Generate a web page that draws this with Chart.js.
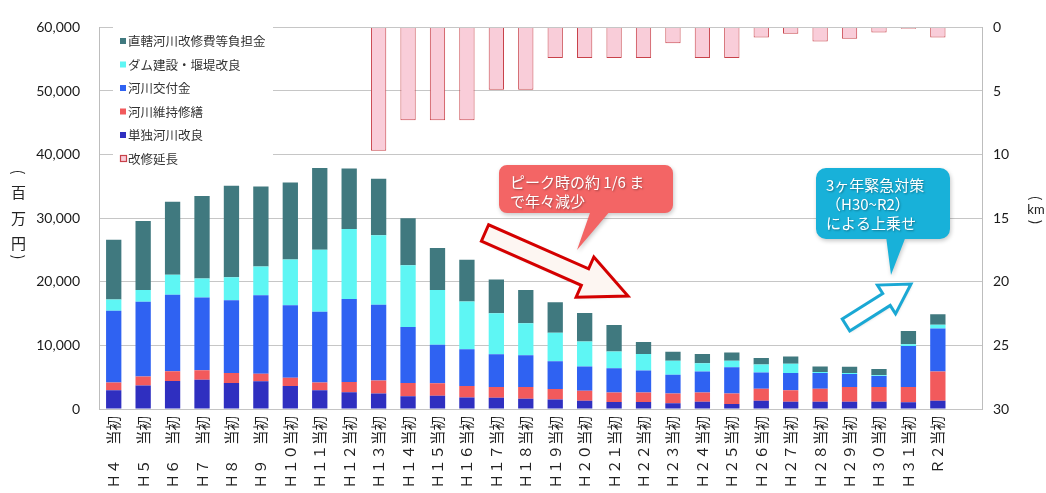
<!DOCTYPE html>
<html>
<head>
<meta charset="utf-8">
<script src="https://cdn.jsdelivr.net/npm/chart.js@4.4.0/dist/chart.umd.min.js"></script>
<style>
  html, body { margin: 0; padding: 0; background: #fff; }
  canvas { display: block; }
</style>
</head>
<body>
<canvas id="c" width="1046" height="493"></canvas>
<script>
// 年度（最後の空欄は右端の余白用）
const categories = ['Ｈ４　当初','Ｈ５　当初','Ｈ６　当初','Ｈ７　当初','Ｈ８　当初','Ｈ９　当初',
  'Ｈ１０当初','Ｈ１１当初','Ｈ１２当初','Ｈ１３当初','Ｈ１４当初','Ｈ１５当初','Ｈ１６当初',
  'Ｈ１７当初','Ｈ１８当初','Ｈ１９当初','Ｈ２０当初','Ｈ２１当初','Ｈ２２当初','Ｈ２３当初',
  'Ｈ２４当初','Ｈ２５当初','Ｈ２６当初','Ｈ２７当初','Ｈ２８当初','Ｈ２９当初','Ｈ３０当初',
  'Ｈ３１当初','Ｒ２当初',''];

// 事業費（百万円）
const tandoku   = [2950,3700,4400,4600,4100,4350,3600,2950,2650,2450,2000,2100,1800,1750,1600,1500,1300,1100,1100,900,1150,800,1300,1150,1150,1150,1150,1050,1300];
const iji       = [1200,1400,1550,1500,1550,1200,1300,1200,1600,2050,2100,1950,1800,1700,1850,1650,1550,1500,1500,1550,1450,1650,1900,1800,2050,2300,2300,2400,4600];
const koufukin  = [11300,11750,12000,11450,11450,12350,11400,11150,13050,11900,8800,6050,5800,5150,5000,4350,3850,3800,3450,2950,3300,4100,2550,2700,2450,2050,1750,6450,6750];
const dam       = [1750,1850,3150,2950,3600,4500,7200,9750,11000,10900,9700,8600,7500,6450,5050,4500,3900,2650,2600,2200,1300,1050,1250,1450,150,150,100,300,600];
const chokkatsu = [9400,10850,11500,13000,14400,12600,12100,12850,9500,8900,7400,6600,6550,5300,5200,4800,4500,4150,1900,1400,1450,1300,1000,1150,900,1000,1000,2050,1650];

// 改修延長（km）
const enchou = [null,null,null,null,null,null,null,null,null,
  9.7,7.3,7.3,7.3,4.9,4.9,2.4,2.4,2.4,2.4,1.25,2.4,2.4,0.8,0.5,1.1,0.9,0.4,0.1,0.8];

// 目盛
const yTicks  = [0,10000,20000,30000,40000,50000,60000];
const y2Ticks = [0,5,10,15,20,25,30];

const JP = '"Noto Sans CJK JP", "Noto Sans", sans-serif';
const NUM = 'Lato, "Open Sans", sans-serif';

Chart.defaults.font.family = JP;

const datasets = [
  { label: '単独河川改良', data: tandoku, backgroundColor: '#2f2fc0' },
  { label: '河川維持修繕', data: iji, backgroundColor: '#f25a5c' },
  { label: '河川交付金', data: koufukin, backgroundColor: '#2f62f2' },
  { label: 'ダム建設・堰堤改良', data: dam, backgroundColor: '#5ef6f4' },
  { label: '直轄河川改修費等負担金', data: chokkatsu, backgroundColor: '#40797f' },
  { label: '改修延長', data: enchou, backgroundColor: '#f9cdd9', borderColor: '#c8424a', borderWidth: 1, yAxisID: 'y2' }
].map(d => Object.assign({ yAxisID: 'y', stack: 's', barPercentage: 0.52, categoryPercentage: 1 }, d));

// 凡例の並び（上から）
const legendOrder = [4, 3, 2, 1, 0, 5];

const legendBox = {
  id: 'legendBox',
  afterDatasetsDraw(chart) {
    const ctx = chart.ctx;
    ctx.save();
    ctx.fillStyle = '#fff';
    ctx.fillRect(113, 23, 160, 148);
    ctx.font = '12.5px ' + JP;
    ctx.textBaseline = 'middle';
    ctx.textAlign = 'left';
    const rows = [41, 64.5, 88, 111.5, 135, 158.5];
    legendOrder.forEach((di, i) => {
      const ds = chart.data.datasets[di];
      const y = rows[i];
      if (ds.borderWidth) {
        ctx.fillStyle = ds.backgroundColor;
        ctx.fillRect(120, y - 3.5, 7, 7);
        ctx.strokeStyle = ds.borderColor;
        ctx.lineWidth = 1.2;
        ctx.strokeRect(120.5, y - 3, 6, 6);
      } else {
        ctx.fillStyle = ds.backgroundColor;
        ctx.fillRect(120, y - 3, 6, 6);
      }
      ctx.fillStyle = '#333';
      ctx.fillText(ds.label, 128, y + 0.5);
    });
    ctx.restore();
  }
};

function roundRectPath(ctx, x, y, w, h, r) {
  ctx.moveTo(x + r, y);
  ctx.arcTo(x + w, y, x + w, y + h, r);
  ctx.arcTo(x + w, y + h, x, y + h, r);
  ctx.arcTo(x, y + h, x, y, r);
  ctx.arcTo(x, y, x + w, y, r);
  ctx.closePath();
}

function callout(ctx, x, y, w, h, r, tail, color) {
  ctx.save();
  ctx.shadowColor = 'rgba(0,0,0,0.22)';
  ctx.shadowBlur = 4;
  ctx.shadowOffsetX = 1;
  ctx.shadowOffsetY = 2;
  ctx.fillStyle = color;
  ctx.beginPath();
  roundRectPath(ctx, x, y, w, h, r);
  ctx.moveTo(tail[0][0], tail[0][1]);
  ctx.lineTo(tail[1][0], tail[1][1]);
  ctx.lineTo(tail[2][0], tail[2][1]);
  ctx.closePath();
  ctx.fill();
  ctx.restore();
}

function blockArrow(ctx, x0, y0, x1, y1, sw, hw, hl, fill, stroke, lw) {
  const dx = x1 - x0, dy = y1 - y0, L = Math.hypot(dx, dy);
  const ux = dx / L, uy = dy / L, nx = -uy, ny = ux;
  const bx = x1 - ux * hl, by = y1 - uy * hl;
  const pts = [
    [x0 + nx * sw, y0 + ny * sw], [bx + nx * sw, by + ny * sw], [bx + nx * hw, by + ny * hw],
    [x1, y1], [bx - nx * hw, by - ny * hw], [bx - nx * sw, by - ny * sw], [x0 - nx * sw, y0 - ny * sw]
  ];
  ctx.save();
  ctx.beginPath();
  pts.forEach((p, i) => i ? ctx.lineTo(p[0], p[1]) : ctx.moveTo(p[0], p[1]));
  ctx.closePath();
  ctx.shadowColor = 'rgba(0,0,0,0.18)';
  ctx.shadowBlur = 3;
  ctx.shadowOffsetX = 1;
  ctx.shadowOffsetY = 1;
  ctx.fillStyle = fill;
  ctx.fill();
  ctx.shadowColor = 'transparent';
  ctx.lineJoin = 'miter';
  ctx.lineWidth = lw;
  ctx.strokeStyle = stroke;
  ctx.stroke();
  ctx.restore();
}

function whiteText(ctx, lines, x, ys) {
  ctx.save();
  ctx.font = '15px ' + JP;
  ctx.textAlign = 'left';
  ctx.textBaseline = 'middle';
  ctx.shadowColor = 'rgba(0,0,0,0.35)';
  ctx.shadowBlur = 2;
  ctx.shadowOffsetX = 1;
  ctx.shadowOffsetY = 1;
  ctx.fillStyle = '#fff';
  lines.forEach((t, i) => ctx.fillText(t, x, ys[i]));
  ctx.restore();
}

const notes = {
  id: 'notes',
  afterDraw(chart) {
    const ctx = chart.ctx;

    // 減少の矢印と吹き出し
    blockArrow(ctx, 485, 233, 628, 296, 9, 22, 47, '#fdf6f2', '#d40000', 3);
    callout(ctx, 499, 165, 174, 48, 8, [[591, 210], [611, 210], [577, 250]], '#f36565');
    whiteText(ctx, ['ピーク時の約 1/6 ま', 'で年々減少'], 510, [182, 201]);

    // 上乗せの矢印と吹き出し
    blockArrow(ctx, 846, 325, 911, 284, 7, 17, 29, '#ffffff', '#1aa8d4', 3);
    callout(ctx, 816, 168, 134, 71, 10, [[886, 236], [906, 236], [891, 275]], '#18b1d9');
    whiteText(ctx, ['3ヶ年緊急対策', '（H30~R2）', 'による上乗せ'], 826, [185, 204, 223]);

    // 軸タイトル（縦書き）
    ctx.save();
    ctx.fillStyle = '#222';
    ctx.textAlign = 'center';
    ctx.textBaseline = 'middle';
    const paren = (ch, x, y, size) => {
      ctx.save();
      ctx.translate(x, y);
      ctx.rotate(Math.PI / 2);
      ctx.font = size + 'px ' + JP;
      ctx.fillText(ch, 0, 0);
      ctx.restore();
    };
    paren('(', 18.5, 172, 15);
    ctx.font = '15px ' + JP;
    ctx.fillText('百', 18.5, 192);
    ctx.fillText('万', 18.5, 218);
    ctx.fillText('円', 18.5, 243);
    paren(')', 18.5, 257, 15);

    paren('(', 1036, 198, 14);
    ctx.font = '13px ' + NUM;
    ctx.fillText('km', 1036, 210);
    paren(')', 1036, 222, 14);
    ctx.restore();
  }
};

new Chart(document.getElementById('c'), {
  type: 'bar',
  data: { labels: categories, datasets },
  options: {
    responsive: false,
    devicePixelRatio: 1,
    animation: false,
    layout: { padding: { top: 22, left: 0, right: 0, bottom: 0 } },
    plugins: {
      legend: { display: false },
      tooltip: { enabled: false }
    },
    scales: {
      x: {
        stacked: true,
        grid: { display: false, drawTicks: false },
        border: { display: true, color: '#c4c4c4' },
        ticks: {
          autoSkip: false, maxRotation: 90, minRotation: 90, padding: 7,
          color: '#222', font: { family: JP, size: 14.5 }
        },
        afterFit(s) { s.height = 84; }
      },
      y: {
        stacked: true,
        position: 'left',
        min: yTicks[0], max: yTicks[yTicks.length - 1],
        afterBuildTicks(s) { s.ticks = yTicks.map(v => ({ value: v })); },
        grid: { color: '#c6c6c6', drawTicks: false },
        border: { display: true, color: '#bdbdbd' },
        ticks: {
          padding: 19, color: '#1a1a1a', font: { family: NUM, size: 14 },
          callback: v => v.toLocaleString('en-US')
        },
        afterFit(s) { s.width = 99; }
      },
      y2: {
        position: 'right',
        reverse: true,
        min: y2Ticks[0], max: y2Ticks[y2Ticks.length - 1],
        afterBuildTicks(s) { s.ticks = y2Ticks.map(v => ({ value: v })); },
        grid: { drawOnChartArea: false, drawTicks: false },
        border: { display: true, color: '#bdbdbd' },
        ticks: { padding: 11, color: '#1a1a1a', font: { family: NUM, size: 14 } },
        afterFit(s) { s.width = 64; }
      }
    }
  },
  plugins: [legendBox, notes]
});
</script>
</body>
</html>
